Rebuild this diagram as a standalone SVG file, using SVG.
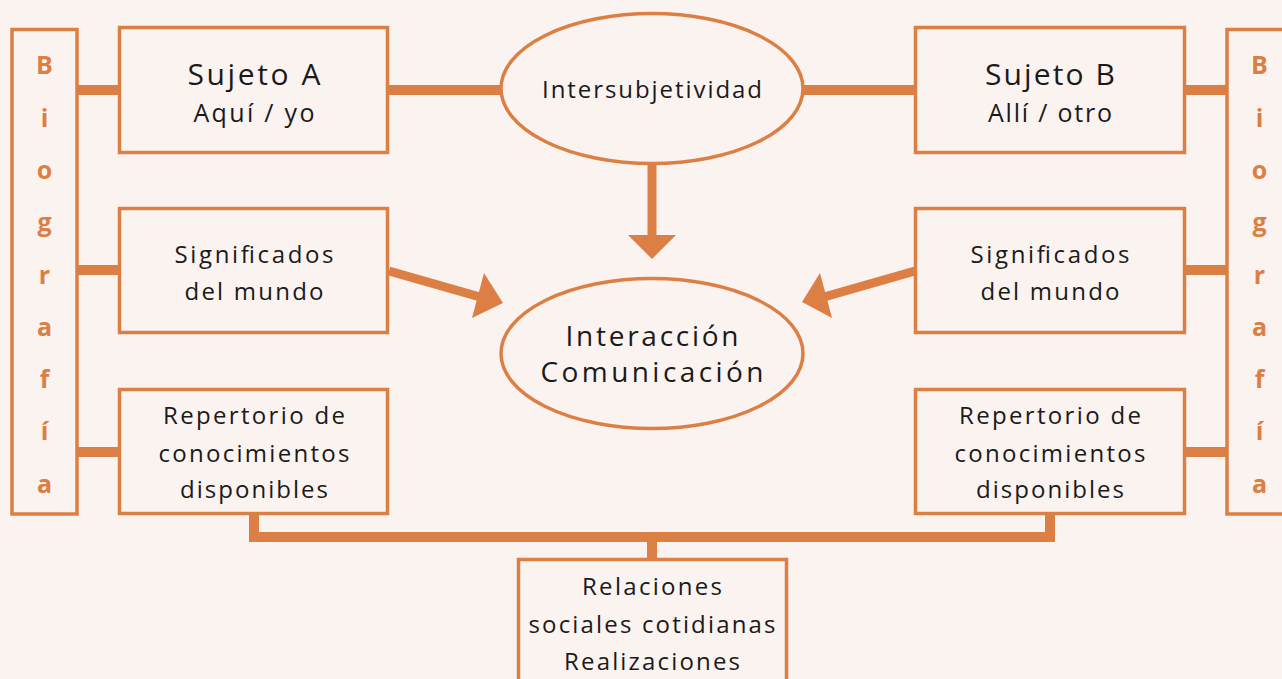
<svg xmlns="http://www.w3.org/2000/svg" width="1282" height="679" viewBox="0 0 1282 679">
<style>
.box{fill:none;stroke:#dc7f44;stroke-width:3.5}
.ln{fill:none;stroke:#dc7f44;stroke-width:10}
.sh{fill:none;stroke:#dc7f44;stroke-width:9}
.hd{fill:#dc7f44}
.t{font-family:"Open Sans","Liberation Sans",sans-serif;fill:#1a1a1a;text-anchor:middle}
.s{font-size:24px}
.bio{font-family:"Open Sans","Liberation Sans",sans-serif;font-weight:bold;fill:#dc7f44;text-anchor:middle;font-size:25px}
</style>
<rect width="1282" height="679" fill="#fbf3f0"/>
<g id="connectors">
<line class="ln" x1="78" y1="90" x2="119" y2="90"/>
<line class="ln" x1="78" y1="270" x2="119" y2="270"/>
<line class="ln" x1="78" y1="452" x2="119" y2="452"/>
<line class="ln" x1="1186" y1="90" x2="1227" y2="90"/>
<line class="ln" x1="1186" y1="270" x2="1227" y2="270"/>
<line class="ln" x1="1186" y1="452" x2="1227" y2="452"/>
<line class="ln" x1="389" y1="90" x2="500" y2="90"/>
<line class="ln" x1="804" y1="90" x2="915" y2="90"/>
<line class="sh" x1="652" y1="165" x2="652" y2="237"/>
<polygon class="hd" points="628,235 676,235 652,259"/>
<line class="sh" x1="389" y1="271" x2="480" y2="297"/>
<polygon class="hd" points="484,273 472,318 503,303"/>
<line class="sh" x1="915" y1="271" x2="824" y2="297"/>
<polygon class="hd" points="820,273 832,318 802,302"/>
<polyline class="ln" points="254,515 254,537 1050,537 1050,515"/>
<line class="ln" x1="652" y1="537" x2="652" y2="558"/>
</g>
<g id="bio-left">
<rect class="box" x="12" y="29.5" width="65" height="484.5"/>
<text class="bio" x="44.5" y="74">B</text>
<text class="bio" x="44.5" y="127">i</text>
<text class="bio" x="44.5" y="179">o</text>
<text class="bio" x="44.5" y="231">g</text>
<text class="bio" x="44.5" y="284">r</text>
<text class="bio" x="44.5" y="336">a</text>
<text class="bio" x="44.5" y="388">f</text>
<text class="bio" x="44.5" y="440">í</text>
<text class="bio" x="44.5" y="493">a</text>
</g>
<g id="bio-right">
<rect class="box" x="1227" y="29.5" width="65" height="484.5"/>
<text class="bio" x="1259.5" y="74">B</text>
<text class="bio" x="1259.5" y="127">i</text>
<text class="bio" x="1259.5" y="179">o</text>
<text class="bio" x="1259.5" y="231">g</text>
<text class="bio" x="1259.5" y="284">r</text>
<text class="bio" x="1259.5" y="336">a</text>
<text class="bio" x="1259.5" y="388">f</text>
<text class="bio" x="1259.5" y="440">í</text>
<text class="bio" x="1259.5" y="493">a</text>
</g>
<g id="sujeto-a">
<rect class="box" x="119.5" y="27.5" width="268" height="125"/>
<text class="t" x="254" y="85" font-size="30" textLength="133" lengthAdjust="spacing">Sujeto A</text>
<text class="t" x="254" y="122" font-size="25" textLength="121" lengthAdjust="spacing">Aquí / yo</text>
</g>
<g id="sujeto-b">
<rect class="box" x="915.5" y="27.5" width="269" height="125"/>
<text class="t" x="1050" y="85" font-size="30" textLength="130" lengthAdjust="spacing">Sujeto B</text>
<text class="t" x="1050" y="122" font-size="25" textLength="124" lengthAdjust="spacing">Allí / otro</text>
</g>
<g id="intersubjetividad">
<ellipse class="box" cx="652" cy="88.5" rx="151" ry="75"/>
<text class="t s" x="652" y="98" textLength="220" lengthAdjust="spacing">Intersubjetividad</text>
</g>
<g id="interaccion">
<ellipse class="box" cx="652" cy="353.5" rx="151" ry="75"/>
<text class="t" x="652" y="346" font-size="28" textLength="173" lengthAdjust="spacing">Interacción</text>
<text class="t" x="652" y="382" font-size="28" textLength="223" lengthAdjust="spacing">Comunicación</text>
</g>
<g id="significados-a">
<rect class="box" x="119.5" y="208.5" width="268" height="124"/>
<text class="t s" x="254" y="263" textLength="159" lengthAdjust="spacing">Significados</text>
<text class="t s" x="254" y="300" textLength="139" lengthAdjust="spacing">del mundo</text>
</g>
<g id="significados-b">
<rect class="box" x="915.5" y="208.5" width="269" height="124"/>
<text class="t s" x="1050" y="263" textLength="159" lengthAdjust="spacing">Significados</text>
<text class="t s" x="1050" y="300" textLength="139" lengthAdjust="spacing">del mundo</text>
</g>
<g id="repertorio-a">
<rect class="box" x="119.5" y="389.5" width="268" height="124"/>
<text class="t s" x="254" y="424" textLength="182" lengthAdjust="spacing">Repertorio de</text>
<text class="t s" x="254" y="462" textLength="191" lengthAdjust="spacing">conocimientos</text>
<text class="t s" x="254" y="498" textLength="148" lengthAdjust="spacing">disponibles</text>
</g>
<g id="repertorio-b">
<rect class="box" x="915.5" y="389.5" width="269" height="124"/>
<text class="t s" x="1050" y="424" textLength="182" lengthAdjust="spacing">Repertorio de</text>
<text class="t s" x="1050" y="462" textLength="191" lengthAdjust="spacing">conocimientos</text>
<text class="t s" x="1050" y="498" textLength="148" lengthAdjust="spacing">disponibles</text>
</g>
<g id="relaciones">
<rect class="box" x="518.5" y="559.5" width="268" height="130"/>
<text class="t s" x="652" y="595" textLength="140" lengthAdjust="spacing">Relaciones</text>
<text class="t s" x="652" y="633" textLength="247" lengthAdjust="spacing">sociales cotidianas</text>
<text class="t s" x="652" y="670" textLength="176" lengthAdjust="spacing">Realizaciones</text>
</g>
</svg>
